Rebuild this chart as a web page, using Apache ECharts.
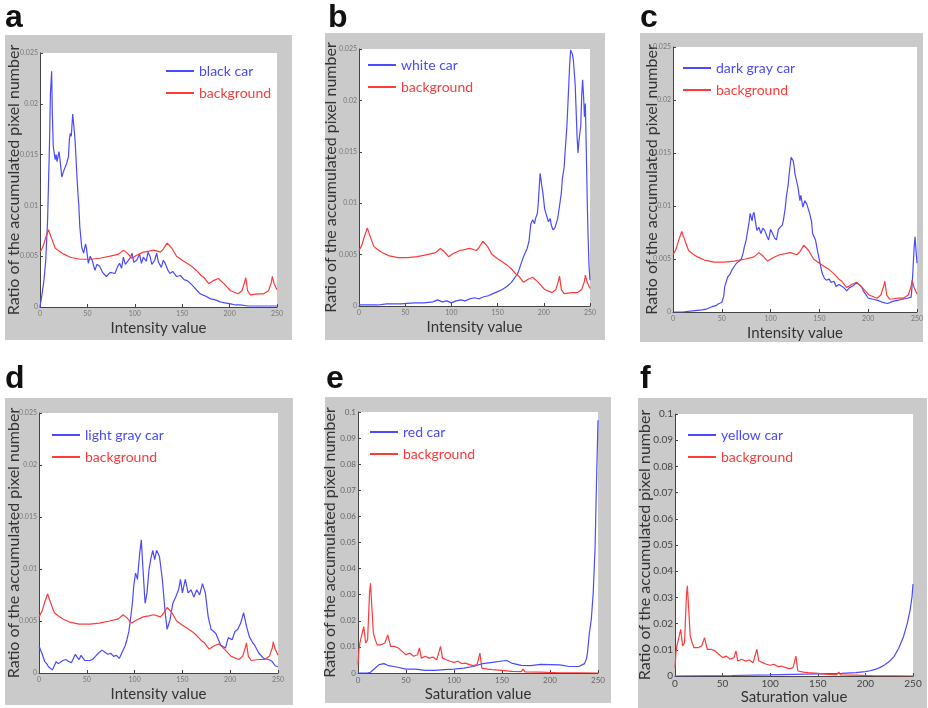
<!DOCTYPE html>
<html>
<head>
<meta charset="utf-8">
<script src="https://cdn.jsdelivr.net/npm/echarts@6/dist/echarts.min.js"></script>
<style>
  body { margin: 0; background: #fff; }
  #chart { width: 928px; height: 708px; }
</style>
</head>
<body>
<div id="chart"></div>
<script>
// [intensity or saturation, ratio]
var bgIntensity = [[0,0.0054],[3,0.0059],[6,0.0068],[9,0.0076],[10,0.0077],[12,0.0068],[16,0.0058],[20,0.0055],[25,0.0052],[32,0.0049],[42,0.0047],[53,0.0047],[63,0.0048],[74,0.0050],[83,0.0052],[88,0.0056],[92,0.0053],[97,0.0048],[102,0.0051],[109,0.0054],[115,0.0055],[120,0.0056],[127,0.0054],[130,0.0057],[134,0.0063],[136,0.0064],[139,0.0058],[144,0.0050],[150,0.0046],[155,0.0043],[160,0.0040],[165,0.0036],[170,0.0031],[173,0.0029],[178,0.0023],[183,0.0026],[188,0.0028],[194,0.0023],[201,0.0016],[209,0.0013],[213,0.0016],[216,0.0025],[217,0.0029],[219,0.0016],[222,0.0012],[230,0.0013],[236,0.0013],[241,0.0016],[244,0.0024],[245,0.0030],[247,0.0023],[250,0.0017]]

var blackCar = [[0,0],[2,0.0012],[4,0.0025],[6,0.0045],[8,0.0085],[10,0.016],[11,0.021],[12.3,0.0232],[13,0.019],[14,0.0158],[16,0.0145],[17,0.015],[18,0.0143],[20,0.0153],[21,0.0146],[23,0.0128],[25,0.0134],[28,0.0141],[30,0.0148],[31,0.0165],[32,0.0171],[33,0.0168],[34.5,0.019],[36,0.0175],[37,0.0164],[39,0.0128],[40,0.0112],[41,0.0099],[42,0.0079],[44,0.0059],[46,0.0053],[48,0.0062],[49,0.0058],[51,0.0043],[53,0.0050],[55,0.0046],[58,0.0036],[60,0.0042],[63,0.0040],[66,0.0034],[70,0.0030],[74,0.0034],[79,0.0033],[82,0.0040],[84,0.0043],[86,0.0038],[88,0.0049],[90,0.0042],[92,0.0043],[95,0.0048],[97,0.0053],[99,0.0044],[102,0.0046],[105,0.0052],[107,0.0043],[109,0.0049],[112,0.0045],[114,0.0054],[116,0.0050],[118,0.0042],[121,0.0046],[123,0.0053],[125,0.0044],[128,0.0039],[130,0.0046],[132,0.0043],[135,0.0036],[137,0.0033],[140,0.0035],[144,0.0030],[148,0.0031],[152,0.0027],[155,0.0026],[158,0.0024],[162,0.0020],[166,0.0016],[169,0.0013],[174,0.0011],[180,0.0008],[185,0.0007],[190,0.0005],[195,0.0004],[201,0.0003],[206,0.0002],[211,0.0002],[220,0.0001],[232,0.0001],[240,0.0001],[250,0.0001]]

var whiteCar = [[0,0.0001],[20,0.0001],[30,0.0002],[45,0.0002],[60,0.0003],[70,0.0003],[80,0.0004],[85,0.0006],[90,0.0004],[95,0.0005],[100,0.0003],[105,0.0005],[110,0.0006],[115,0.0005],[120,0.0007],[125,0.0008],[130,0.0007],[135,0.0009],[140,0.0010],[145,0.0012],[150,0.0014],[155,0.0016],[160,0.0019],[165,0.0023],[169,0.0028],[172,0.0032],[175,0.0040],[178,0.0048],[180,0.0052],[182,0.0056],[184,0.0063],[185,0.0072],[186,0.0080],[188,0.0084],[190,0.0080],[191,0.0085],[193,0.0090],[194,0.0100],[196,0.0129],[198,0.0116],[199,0.0110],[201,0.0094],[203,0.0088],[205,0.0082],[207,0.0085],[208,0.0079],[210,0.0074],[212,0.0076],[213,0.0077],[215,0.0085],[217,0.0097],[219,0.0110],[220,0.0123],[222,0.0135],[223,0.0149],[225,0.0175],[226,0.0194],[228,0.0235],[229,0.0249],[231,0.0245],[232,0.0239],[234,0.0215],[235,0.0190],[236,0.0165],[237,0.0149],[238,0.0160],[239,0.0168],[240,0.0175],[241,0.0204],[242,0.0220],[243,0.0205],[244,0.0184],[245,0.0197],[246,0.0150],[247,0.0103],[248,0.0065],[249,0.0038],[250,0.0025]]

var darkGrayCar = [[0,0],[10,0],[20,0.0001],[30,0.0002],[35,0.0003],[40,0.0005],[44,0.0006],[47,0.0008],[50,0.0009],[52,0.0015],[53,0.0024],[55,0.0030],[56,0.0033],[58,0.0035],[60,0.0039],[62,0.0042],[65,0.0046],[68,0.0048],[70,0.0050],[72,0.0056],[73,0.0061],[75,0.0068],[76,0.0074],[78,0.0085],[79,0.0093],[81,0.0086],[82,0.0092],[83,0.0094],[85,0.0082],[86,0.0077],[88,0.0080],[90,0.0074],[92,0.0079],[94,0.0077],[96,0.0072],[98,0.0068],[100,0.0078],[102,0.0077],[104,0.0070],[106,0.0068],[108,0.0078],[110,0.0080],[112,0.0082],[113,0.0086],[115,0.0098],[116,0.0108],[118,0.0120],[119,0.0130],[121,0.0146],[123,0.0143],[124,0.0138],[125,0.0130],[127,0.0122],[128,0.0118],[130,0.0105],[131,0.0110],[133,0.0099],[135,0.0105],[137,0.0102],[138,0.0099],[140,0.0093],[142,0.0085],[143,0.0074],[146,0.0068],[148,0.0058],[150,0.0049],[152,0.0040],[153,0.0036],[155,0.0032],[157,0.0030],[160,0.0031],[162,0.0028],[165,0.0029],[167,0.0024],[170,0.0026],[172,0.0027],[175,0.0023],[178,0.0020],[181,0.0023],[185,0.0025],[188,0.0028],[190,0.0027],[193,0.0024],[195,0.0020],[198,0.0016],[200,0.0013],[205,0.0012],[210,0.0011],[215,0.0009],[220,0.0008],[225,0.0010],[230,0.0011],[235,0.0012],[240,0.0013],[244,0.0014],[245,0.0025],[246,0.0042],[247,0.0060],[248,0.0071],[249,0.0058],[250,0.0046]]

var lightGrayCar = [[0,0.0026],[3,0.0019],[6,0.0011],[8,0.0009],[10,0.0006],[12,0.0005],[14,0.0003],[16,0.0007],[18,0.0011],[20,0.0009],[22,0.0010],[25,0.0012],[28,0.0013],[31,0.0011],[34,0.0010],[36,0.0014],[38,0.0018],[40,0.0015],[42,0.0013],[44,0.0017],[46,0.0016],[48,0.0012],[50,0.0011],[53,0.0012],[56,0.0013],[59,0.0016],[62,0.0019],[64,0.0018],[66,0.0022],[69,0.0020],[72,0.0018],[75,0.0019],[78,0.0016],[81,0.0017],[84,0.0014],[86,0.0018],[88,0.0022],[90,0.0026],[92,0.0032],[94,0.0040],[96,0.0054],[98,0.0070],[99,0.0083],[101,0.0096],[103,0.0090],[105,0.0112],[107,0.0128],[109,0.0096],[111,0.0067],[113,0.0077],[115,0.0099],[117,0.0110],[119,0.0118],[121,0.0109],[123,0.0118],[126,0.0112],[129,0.0090],[132,0.0058],[134,0.0042],[137,0.0051],[140,0.0067],[143,0.0073],[146,0.0080],[148,0.0090],[150,0.0077],[153,0.0090],[156,0.0077],[159,0.0080],[162,0.0073],[165,0.0080],[168,0.0075],[171,0.0086],[174,0.0077],[177,0.0054],[180,0.0042],[185,0.0038],[190,0.0027],[195,0.0024],[198,0.0034],[202,0.0032],[205,0.0040],[208,0.0042],[211,0.0048],[214,0.0058],[217,0.0045],[220,0.0035],[223,0.0030],[226,0.0026],[230,0.0019],[235,0.0014],[240,0.0013],[244,0.0011],[247,0.0007],[250,0.0006]]

var bgSaturation = [[0,0.0032],[1,0.009],[2,0.0115],[4,0.0108],[6,0.0178],[8,0.0115],[10,0.0127],[12,0.0306],[13,0.0344],[14,0.028],[16,0.0153],[18,0.0127],[20,0.0108],[24,0.0108],[28,0.0115],[31,0.0146],[34,0.0102],[38,0.0102],[42,0.0096],[46,0.0083],[50,0.007],[54,0.0076],[58,0.0064],[62,0.007],[64,0.0096],[66,0.0057],[70,0.0064],[74,0.0057],[78,0.0061],[82,0.0051],[86,0.0102],[88,0.0057],[92,0.0051],[96,0.0045],[100,0.0041],[104,0.0045],[108,0.0036],[112,0.0038],[116,0.0032],[120,0.0028],[124,0.0032],[127,0.0076],[129,0.0019],[135,0.0015],[140,0.0013],[150,0.001],[160,0.0006],[170,0.0005],[172,0.0015],[174,0.0004],[190,0.0003],[210,0.0001],[230,0.0001],[250,0]]

var redCar = [[0,0],[10,0],[13,0.0003],[15,0.0006],[18,0.0019],[22,0.0032],[27,0.0036],[32,0.0028],[40,0.0023],[50,0.0015],[60,0.0015],[70,0.0010],[80,0.0010],[90,0.0013],[100,0.0015],[110,0.0019],[120,0.0025],[130,0.0036],[140,0.0041],[150,0.0046],[155,0.0048],[160,0.0038],[170,0.0029],[180,0.0028],[190,0.0033],[200,0.0032],[210,0.0031],[220,0.0025],[230,0.0025],[236,0.0036],[238,0.0055],[239,0.0076],[241,0.0153],[243,0.0204],[245,0.0306],[247,0.0484],[248,0.0662],[249,0.0815],[250,0.0968]]

var yellowCar = [[0,0],[30,0.0001],[60,0.0002],[100,0.0004],[125,0.0006],[150,0.0008],[175,0.0010],[190,0.0013],[200,0.0017],[205,0.0020],[210,0.0025],[215,0.0032],[220,0.0042],[225,0.0055],[230,0.0074],[235,0.0106],[240,0.0150],[244,0.0201],[247,0.0252],[249,0.0303],[250,0.0351]]

var panelLetters = ['a', 'b', 'c', 'd', 'e', 'f']
var carNames = ['black car', 'white car', 'dark gray car', 'light gray car', 'red car', 'yellow car']
var carData = [blackCar, whiteCar, darkGrayCar, lightGrayCar, redCar, yellowCar]
var bgData = [bgIntensity, bgIntensity, bgIntensity, bgIntensity, bgSaturation, bgSaturation]
var xNames = ['Intensity value', 'Intensity value', 'Intensity value', 'Intensity value', 'Saturation value', 'Saturation value']
var yMax = [0.025, 0.025, 0.025, 0.025, 0.1, 0.1]
var yStep = [0.005, 0.005, 0.005, 0.005, 0.01, 0.01]

var BLUE = '#4a4aff'
var RED = '#ff3a3a'
var FONT = 'Lato'

// layout, one per panel: plot area, gray frame, legend spot
var plots = [
  { l: 40, t: 53, w: 237, h: 254 },
  { l: 359, t: 49, w: 231, h: 257 },
  { l: 673, t: 47, w: 244, h: 265 },
  { l: 39, t: 413, w: 239, h: 260 },
  { l: 358, t: 412, w: 240, h: 261 },
  { l: 675, t: 414, w: 238, h: 262 }
]
var frames = [
  [5, 35, 287, 305], [325, 33, 280, 307], [640, 33, 283, 309],
  [5, 398, 288, 307], [325, 397, 286, 306], [638, 398, 289, 310]
]
var legendPos = [[166, 64], [368, 58], [683, 61], [52, 428], [370, 425], [688, 428]]
var letterPos = [[5, 2], [328, 2], [640, 2], [5, 363], [326, 363], [640, 363]]
var tickFont = [7, 7, 7, 7, 8, 10]
var tickColor = ['#777', '#777', '#777', '#777', '#666', '#444']
var yNameGap = [18, 20, 13, 17, 20, 22]

var myChart = echarts.init(document.getElementById('chart'))

var grid = [], xAxis = [], yAxis = [], series = [], legend = [], elements = []

for (var i = 0; i < 6; i++) {
  var p = plots[i]
  grid.push({
    left: p.l, top: p.t, width: p.w, height: p.h,
    show: true, backgroundColor: '#fff', borderWidth: 0
  })
  xAxis.push({
    gridIndex: i, type: 'value', min: 0, max: 250, interval: 50,
    name: xNames[i], nameLocation: 'middle', nameGap: 14, nameMoveOverlap: false,
    nameTextStyle: { fontFamily: FONT, fontSize: 15, color: '#333' },
    axisLine: { lineStyle: { color: '#444', width: 1 } },
    axisTick: { inside: true, length: 3, lineStyle: { color: '#444' } },
    axisLabel: { fontSize: tickFont[i], color: tickColor[i], margin: 3, fontFamily: FONT },
    splitLine: { show: false }
  })
  yAxis.push({
    gridIndex: i, type: 'value', min: 0, max: yMax[i], interval: yStep[i],
    name: 'Ratio of the accumulated pixel number', nameLocation: 'middle',
    nameGap: yNameGap[i], nameMoveOverlap: false,
    nameTextStyle: { fontFamily: FONT, fontSize: 16, color: '#333' },
    axisLine: { show: true, lineStyle: { color: '#444', width: 1 } },
    axisTick: { show: true, inside: true, length: 3, lineStyle: { color: '#444' } },
    axisLabel: { fontSize: tickFont[i], color: tickColor[i], margin: 2, fontFamily: FONT },
    splitLine: { show: false }
  })
  series.push({
    name: carNames[i], type: 'line', xAxisIndex: i, yAxisIndex: i,
    data: carData[i], showSymbol: false, animation: false,
    lineStyle: { color: BLUE, width: 1.2 }, itemStyle: { color: BLUE }
  })
  series.push({
    name: 'background', type: 'line', xAxisIndex: i, yAxisIndex: i,
    data: bgData[i], showSymbol: false, animation: false,
    lineStyle: { color: RED, width: 1.2 }, itemStyle: { color: RED }
  })
  legend.push({
    orient: 'vertical', left: legendPos[i][0], top: legendPos[i][1],
    padding: 0, icon: 'rect', itemWidth: 28, itemHeight: 2, itemGap: 8,
    textStyle: { fontFamily: FONT, fontSize: 14 },
    selectedMode: false,
    data: [
      { name: carNames[i], textStyle: { color: BLUE } },
      { name: 'background', textStyle: { color: RED } }
    ]
  })
  var f = frames[i]
  elements.push({
    type: 'rect', left: f[0], top: f[1], z: -10,
    shape: { width: f[2], height: f[3] },
    style: { fill: '#cacaca' }
  })
  elements.push({
    type: 'text', left: letterPos[i][0], top: letterPos[i][1], z: 10,
    style: { text: panelLetters[i], font: 'bold 32px "Liberation Sans", Arial', fill: '#111' }
  })
}

myChart.setOption({
  animation: false,
  backgroundColor: '#fff',
  grid: grid,
  xAxis: xAxis,
  yAxis: yAxis,
  legend: legend,
  graphic: { elements: elements },
  series: series
})
</script>
</body>
</html>
